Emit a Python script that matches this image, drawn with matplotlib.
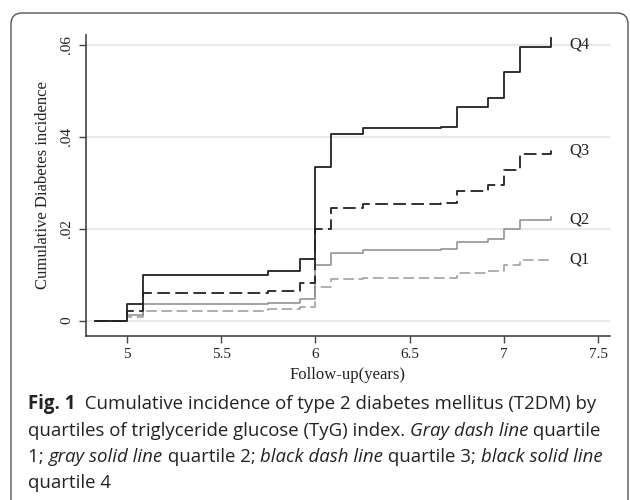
import matplotlib as mpl
mpl.use('Agg')
import matplotlib.pyplot as plt
from matplotlib.patches import FancyBboxPatch
from matplotlib.transforms import IdentityTransform

# follow-up time (years) where the curves step
t = [4.83, 5.0, 5.083, 5.75, 5.917, 6.0, 6.083, 6.25, 6.667, 6.75, 6.917, 7.0, 7.083, 7.25]
# cumulative incidence by TyG quartile
q1 = [0, 0.0007, 0.0021, 0.0025, 0.0030, 0.0074, 0.0090, 0.0092, 0.0093, 0.0103, 0.0108, 0.0120, 0.0132, 0.0133]
q2 = [0, 0.0012, 0.0036, 0.0039, 0.0048, 0.0120, 0.0148, 0.0153, 0.0155, 0.0171, 0.0178, 0.0199, 0.0219, 0.0226]
q3 = [0, 0.0021, 0.0060, 0.0065, 0.0081, 0.0200, 0.0244, 0.0254, 0.0256, 0.0282, 0.0295, 0.0328, 0.0362, 0.0372]
q4 = [0, 0.0036, 0.0100, 0.0107, 0.0133, 0.0333, 0.0405, 0.0418, 0.0421, 0.0465, 0.0484, 0.0541, 0.0594, 0.0614]

labels = ['Q1', 'Q2', 'Q3', 'Q4']
label_y = [0.0132, 0.0221, 0.0371, 0.0600]

xticks = [5, 5.5, 6, 6.5, 7, 7.5]
xticklabels = ['5', '5.5', '6', '6.5', '7', '7.5']
yticks = [0, 0.02, 0.04, 0.06]
yticklabels = ['0', '.02', '.04', '.06']

serif = 'Liberation Serif'
sans = 'Open Sans'

fig = plt.figure(figsize=(6.3, 5.0), dpi=100)
ax = fig.add_axes([0.1365, 0.328, 0.8315, 0.602])

ax.step(t, q1, where='post', color='#9a9a9a', lw=1.1, dashes=(7, 3), zorder=3)
ax.step(t, q2, where='post', color='#8c8c8c', lw=1.1, zorder=3)
ax.step(t, q3, where='post', color='#222222', lw=1.3, dashes=(7, 3), zorder=4)
ax.step(t, q4, where='post', color='#222222', lw=1.3, zorder=5)

# curve labels at the right
for lbl, yl in zip(labels, label_y):
    ax.text(7.345, yl, lbl, fontsize=12, family=serif, va='center', ha='left',
            color='#222222', zorder=6)

ax.set_xlim(4.783, 7.561)
ax.set_ylim(-0.00333, 0.0621)
ax.set_xticks(xticks)
ax.set_xticklabels(xticklabels, family=serif, fontsize=11)
ax.set_yticks(yticks)
ax.set_yticklabels(yticklabels, family=serif, fontsize=11, rotation=90, va='center')
ax.tick_params(direction='out', length=5, width=1, color='#444444', labelcolor='#222222', pad=4)
for g in yticks:
    ax.axhline(g, color='#e9e9e9', lw=1.5, zorder=1)
for s in ['top', 'right']:
    ax.spines[s].set_visible(False)
for s in ['left', 'bottom']:
    ax.spines[s].set_color('#444444')
    ax.spines[s].set_linewidth(1.2)
ax.set_xlabel('Follow-up(years)', family=serif, fontsize=12, color='#222222', labelpad=4)
ax.set_ylabel('Cumulative Diabetes incidence', family=serif, fontsize=12, color='#222222', labelpad=7)

# rounded frame
box = FancyBboxPatch((11, -30), 617, 517, boxstyle='round,pad=0,rounding_size=11',
                     transform=IdentityTransform(), fill=False, ec='#555555', lw=1.0)
fig.patches.append(box)

# caption with mixed bold / italic pieces
cap = [
    [('Fig. 1', 'bold', 'normal'), ('  Cumulative incidence of type 2 diabetes mellitus (T2DM) by', 'normal', 'normal')],
    [('quartiles of triglyceride glucose (TyG) index. ', 'normal', 'normal'), ('Gray dash line', 'normal', 'italic'),
     (' quartile', 'normal', 'normal')],
    [('1; ', 'normal', 'normal'), ('gray solid line', 'normal', 'italic'), (' quartile 2; ', 'normal', 'normal'),
     ('black dash line', 'normal', 'italic'), (' quartile 3; ', 'normal', 'normal'), ('black solid line', 'normal', 'italic')],
    [('quartile 4', 'normal', 'normal')],
]
baselines = [409, 436, 462, 488]
fig.canvas.draw()
r = fig.canvas.get_renderer()
for line, yb in zip(cap, baselines):
    x = 28
    for txt, w, st in line:
        tx = fig.text(x, 500 - yb, txt, transform=IdentityTransform(), family=sans, fontsize=13.4,
                      weight=w, style=st, va='baseline', ha='left', color='#222222')
        x = tx.get_window_extent(r).x1

fig.savefig('out.png', dpi=100)
